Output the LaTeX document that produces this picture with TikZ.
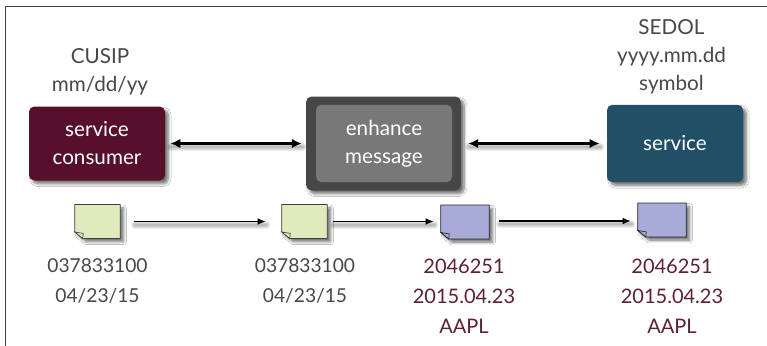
\documentclass[tikz,border=0pt]{standalone}
\usepackage{fontspec}
\setmainfont{Lato}
\usetikzlibrary{arrows.meta,calc,shadows.blur}
\definecolor{wine}{HTML}{570F2B}
\definecolor{petrol}{HTML}{214F66}
\definecolor{slatedark}{HTML}{474747}
\definecolor{slatelight}{HTML}{787878}
\definecolor{notegreen}{HTML}{DFEBBD}
\definecolor{noteblue}{HTML}{A8ABD8}
\definecolor{labelgrey}{HTML}{484848}
\definecolor{labelwine}{HTML}{5E1F38}
\newcommand{\wordfont}{\fontsize{15.5}{21}\selectfont}
\newcommand{\valuefont}{\fontsize{14.4}{22.5}\selectfont}
\newcommand{\redfont}{\fontsize{15}{22.5}\selectfont}
\tikzset{
	softshadow/.style={blur shadow={shadow xshift=2.5pt, shadow yshift=-2.5pt, shadow blur steps=8, shadow opacity=55}},
	shadowpass/.style={preaction={draw, -, black, draw opacity=0.07, line width=#1, line cap=round, transform canvas={xshift=0.5pt, yshift=-2.5pt}}},
	lineshadow/.style={shadowpass=6pt, shadowpass=4.5pt, shadowpass=3pt, shadowpass=1.5pt},
	box/.style={rounded corners=4pt, inner sep=0pt, text=white, align=center, font=\wordfont},
	shadowbox/.style={box, softshadow},
	label/.style={text=labelgrey, align=center, inner sep=0pt, font=\wordfont},
	value/.style={label, font=\valuefont},
	redvalue/.style={label, text=labelwine, font=\redfont},
	sheet/.style={minimum width=#1, minimum height=25pt, inner sep=0pt},
	link/.style={-{Latex[length=6pt,width=5pt]}, line width=1.1pt, lineshadow},
	biglink/.style={{Latex[length=7.5pt,width=7pt]}-{Latex[length=7.5pt,width=7pt]}, line width=1.8pt, lineshadow},
}
\def\notesheet[#1](#2){\draw[#1, softshadow, line width=0.6pt, line join=round] (#2.north west) -- (#2.north east) -- (#2.south east) -- ($(#2.south west)+(8,0)$) -- ($(#2.south west)+(0,-6.5)$) -- cycle;
	\draw[#1, line width=0.5pt] ($(#2.south west)+(0,-6.5)$) -- ($(#2.south west)+(8.5,-5)$) -- ($(#2.south west)+(8,0)$) -- cycle;}
\begin{document}
\begin{tikzpicture}[x=0.75pt, y=-0.75pt]
	\useasboundingbox (0, 0) rectangle (767, 346);
	\fill[white] (0, 0) rectangle (767, 346);
	
	%%% frame
	\draw[line width=0.7pt, color=black!75] (5, 346) -- (5, 6) -- (767, 6);
	
	%%% services
	\node[shadowbox, fill=wine, minimum width=102pt, minimum height=55.5pt] (consumer) at (97, 143.5) {service\\consumer};
	\node[shadowbox, fill=slatedark, minimum width=116pt, minimum height=70.5pt] (enhanceouter) at (383.5, 143.5) {};
	\node[box, fill=slatelight, minimum width=102pt, minimum height=58pt] (enhance) at (384, 143.5) {enhance\\message};
	\node[shadowbox, fill=petrol, minimum width=102pt, minimum height=58pt] (service) at (675, 143.5) {service};
	
	\draw[biglink] ($(consumer.east)+(5,0)$) -- ($(enhanceouter.west)+(-4,0)$);
	\draw[biglink] ($(enhanceouter.east)+(7,0)$) -- ($(service.west)+(-7,0)$);
	
	%%% formats
	\node[label] (cusip) at (100, 71.5) {CUSIP\\mm/dd/yy};
	\node[label] (sedol) at (671.5, 57) {SEDOL\\yyyy.mm.dd\\symbol};
	
	%%% messages
	\node[sheet=33.75pt] (note1) at (97.5, 221.5) {};
	\node[sheet=33.75pt] (note2) at (304.5, 221.5) {};
	\node[sheet=36pt] (note3) at (465, 222) {};
	\node[sheet=36pt] (note4) at (662, 220) {};
	\notesheet[fill=notegreen, draw=black!75](note1)
	\notesheet[fill=notegreen, draw=black!75](note2)
	\notesheet[fill=noteblue, draw=black!85](note3)
	\notesheet[fill=noteblue, draw=black!85](note4)
	
	\draw[link] ($(note1.east)+(14,0)$) -- ($(note2.west)+(-16,0)$);
	\draw[link] ($(note2.east)+(6,0)$) -- ($(note2.east -| note3.west)+(-7,0)$);
	\draw[link] ($(note3.east)+(10,-1)$) -- ($(note3.east -| note4.west)+(-7,-1)$);
	
	%%% values
	\node[value] (value1) at (97.5, 280.5) {037833100\\04/23/15};
	\node[value] (value2) at (305, 280.5) {037833100\\04/23/15};
	\node[redvalue] (value3) at (464, 296) {2046251\\2015.04.23\\AAPL};
	\node[redvalue] (value4) at (672, 296) {2046251\\2015.04.23\\AAPL};
\end{tikzpicture}
\end{document}
